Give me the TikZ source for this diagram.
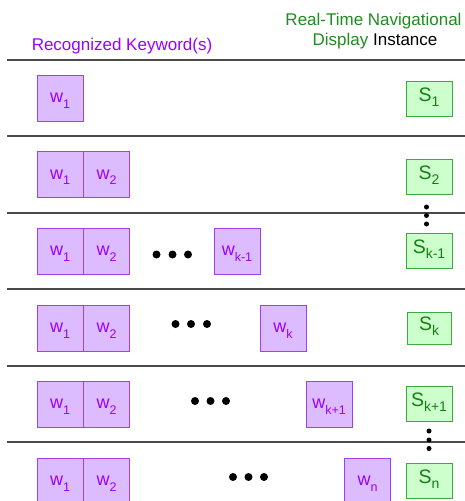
\documentclass[tikz,border=0pt]{standalone}
\usepackage{fontspec}
\setmainfont{Liberation Sans}
\definecolor{kwpurple}{HTML}{9900FF}
\definecolor{kwfill}{HTML}{DCBCFF}
\definecolor{kwedge}{HTML}{A040F0}
\definecolor{hdgreen}{HTML}{1E8C1E}
\definecolor{sgreen}{HTML}{128012}
\definecolor{sfill}{HTML}{CCFFCC}
\definecolor{sedge}{HTML}{3CAA3C}
\definecolor{rulegray}{HTML}{4A4A4A}
\newcommand\subw[1]{\raisebox{-5.4pt}{\fontsize{12.5}{12.5}\selectfont #1}}
\newcommand\subs[1]{\raisebox{-5pt}{\fontsize{14}{14}\selectfont #1}}
\tikzset{
  wbox/.style={draw=kwedge, line width=0.9pt, fill=kwfill, minimum width=46pt, minimum height=46pt, inner sep=0pt, text=kwpurple, font=\fontsize{18}{18}\selectfont, text height=9.6pt, text depth=0pt},
  sbox/.style={draw=sedge, line width=0.9pt, fill=sfill, minimum width=46pt, minimum height=35pt, inner sep=0pt, text=sgreen, font=\fontsize{19.5}{19.5}\selectfont, text height=5.6pt, text depth=0pt},
  sepline/.style={draw=rulegray, line width=1.2pt},
  bigdot/.style={fill=black, circle, minimum size=8pt, inner sep=0pt},
  smalldot/.style={fill=black, circle, minimum size=5pt, inner sep=0pt},
  hdr/.style={font=\fontsize{17}{17}\selectfont, inner sep=0pt, anchor=base}
}
\begin{document}
\begin{tikzpicture}[x=1pt,y=-1pt]
\useasboundingbox (0,0) rectangle (465,501);
% headers
\node[hdr, text=kwpurple] (hk) at (122,50) {Recognized Keyword(s)};
\node[hdr, text=hdgreen] (hr1) at (373.5,25) {Real-Time Navigational};
\node[hdr] (hr2) at (375,45) {\textcolor{hdgreen}{Display} Instance};
% separator lines
\foreach \yy/\nm in {60/l0,136/l1,213/l2,289/l3,366/l4,442/l5}{
  \coordinate (\nm a) at (7,\yy);
  \coordinate (\nm b) at (465,\yy);
  \draw[sepline] (\nm a) -- (\nm b);
}
% row 1
\node[wbox] (r1w1) at (60,98) {w\subw{1}};
\node[sbox] (s1) at (429,98.5) {S\subs{1}};
% row 2
\node[wbox] (r2w1) at (60,174.5) {w\subw{1}};
\node[wbox] (r2w2) at (106.5,174.5) {w\subw{2}};
\node[sbox] (s2) at (429,176.5) {S\subs{2}};
% row 3
\node[wbox] (r3w1) at (60,251) {w\subw{1}};
\node[wbox] (r3w2) at (106.5,251) {w\subw{2}};
\node[bigdot] (r3d1) at (156.5,254.5) {};
\node[bigdot] (r3d2) at (172.5,254.5) {};
\node[bigdot] (r3d3) at (188,254.5) {};
\node[wbox] (r3wk) at (237,251) {w\subw{k-1}};
\node[sbox] (s3) at (429,251) {S\subs{k-1}};
% row 4
\node[wbox] (r4w1) at (60,328) {w\subw{1}};
\node[wbox] (r4w2) at (106.5,328) {w\subw{2}};
\node[bigdot] (r4d1) at (175.5,324) {};
\node[bigdot] (r4d2) at (191,324) {};
\node[bigdot] (r4d3) at (207,324) {};
\node[wbox] (r4wk) at (283,328) {w\subw{k}};
\node[sbox, minimum width=44pt, minimum height=32pt] (s4) at (429,328) {S\subs{k}};
% row 5
\node[wbox] (r5w1) at (60,404) {w\subw{1}};
\node[wbox] (r5w2) at (106.5,404) {w\subw{2}};
\node[bigdot] (r5d1) at (195,401) {};
\node[bigdot] (r5d2) at (210.5,401) {};
\node[bigdot] (r5d3) at (226,401) {};
\node[wbox] (r5wk) at (329,404) {w\subw{k+1}};
\node[sbox] (s5) at (429,404) {S\subs{k+1}};
% row 6
\node[wbox] (r6w1) at (60,481) {w\subw{1}};
\node[wbox] (r6w2) at (106.5,481) {w\subw{2}};
\node[bigdot] (r6d1) at (233,477) {};
\node[bigdot] (r6d2) at (248.5,477) {};
\node[bigdot] (r6d3) at (264,477) {};
\node[wbox] (r6wn) at (367.5,481) {w\subw{n}};
\node[sbox] (s6) at (429,481) {S\subs{n}};
% vertical dots
\node[smalldot] (v1) at (426.5,207) {};
\node[smalldot] (v2) at (426.5,215.5) {};
\node[smalldot] (v3) at (426.5,224) {};
\node[smalldot] (v4) at (429,431) {};
\node[smalldot] (v5) at (429,440) {};
\node[smalldot] (v6) at (429,448.5) {};
\end{tikzpicture}
\end{document}
